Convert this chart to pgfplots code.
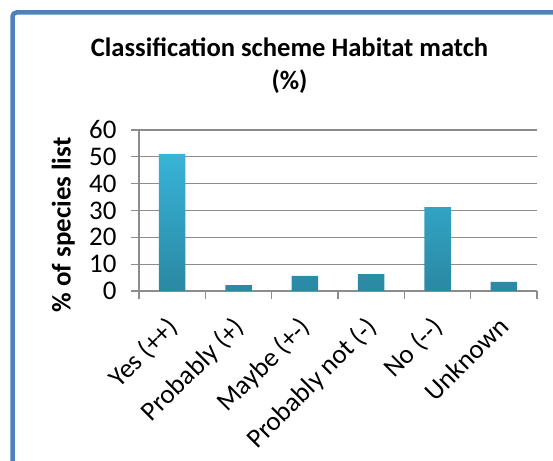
\documentclass[border=0pt]{standalone}
\usepackage{pgfplots}
\pgfplotsset{compat=1.18}
\usepackage{fontspec}
\setmainfont{Carlito}

\definecolor{frameblue}{HTML}{4F81BD}
\definecolor{gridgray}{HTML}{8C8C8C}
\definecolor{bartop}{HTML}{38B4D8}
\definecolor{barbot}{HTML}{2A88A3}

\begin{document}
\begin{tikzpicture}[x=1bp,y=1bp]
% chart area frame (only top and left edges are in view)
\draw[frameblue, line width=4.5bp, rounded corners=4bp]
  (12.5,-10) -- (12.5,448.5) -- (570,448.5);

\node[align=center, font=\fontsize{26.7}{33}\selectfont\bfseries]
  at (289.5,395) {Classification scheme Habitat match\\(\%)};

\begin{axis}[
    at={(139bp,170bp)}, anchor=south west,
    scale only axis,
    width=398bp, height=161bp,
    xmin=-0.5, xmax=5.5,
    ymin=0, ymax=60,
    ytick={0,10,...,60},
    xtick={0,...,5},
    xticklabels={Yes (++), Probably (+), Maybe (+-), Probably not (-), No (-{}-), Unknown},
    minor xtick={-0.5,0.5,1.5,2.5,3.5,4.5,5.5},
    axis x line*=bottom,
    axis y line*=left,
    axis line style={gridgray, line width=1.2bp},
    tick align=outside,
    major tick length=8bp,
    minor tick length=8bp,
    major x tick style={draw=none},
    minor x tick style={gridgray, line width=1.2bp},
    major y tick style={gridgray, line width=1.2bp},
    ymajorgrids,
    major grid style={gridgray, line width=1.2bp},
    /pgf/number format/assume math mode=true,
    tick label style={font=\fontsize{27}{30}\selectfont},
    yticklabel style={xshift=-11bp},
    xticklabel style={rotate=45, anchor=north east, inner sep=0pt, xshift=-16bp, yshift=-6bp},
    ylabel={\% of species list},
    ylabel style={at={(axis description cs:-0.19,0.41)}, anchor=center,
                  font=\fontsize{27}{30}\selectfont\bfseries},
    ybar, bar width=26.5bp,
]
\addplot[draw=none, top color=bartop, bottom color=barbot] coordinates {
  (0,51.1) (1,2.2) (2,5.6) (3,6.3) (4,31.3) (5,3.4)
};
\end{axis}

\pgfresetboundingbox
\path[use as bounding box] (0,0) rectangle (553,461);
\end{tikzpicture}
\end{document}
